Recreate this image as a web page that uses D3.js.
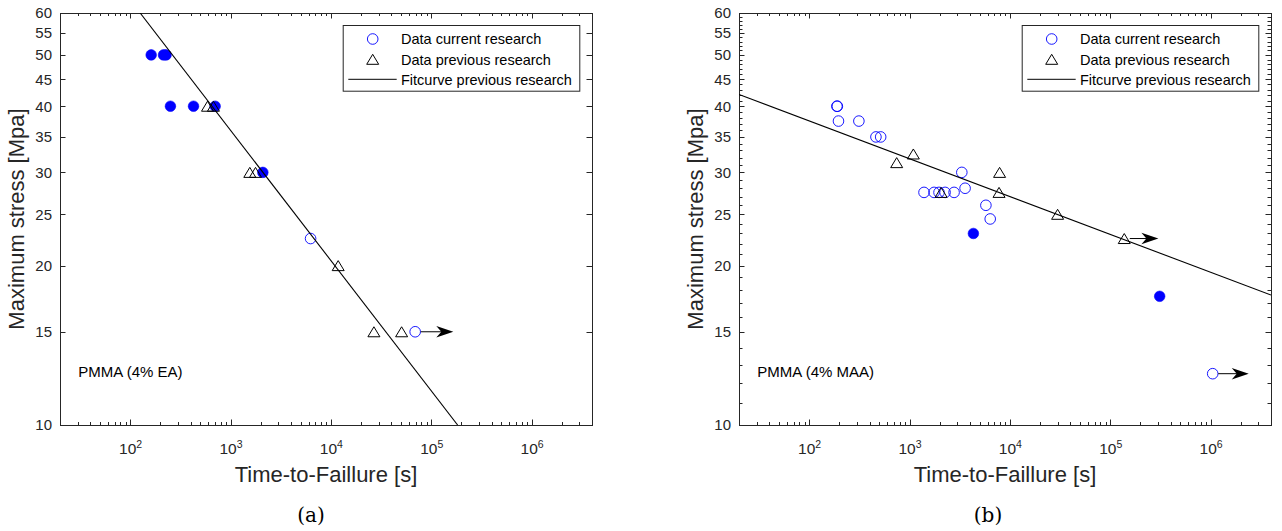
<!DOCTYPE html>
<html>
<head>
<meta charset="utf-8">
<script src="https://cdn.jsdelivr.net/npm/d3@7"></script>
<style>
  html, body { margin: 0; padding: 0; background: #fff; }
  svg { display: block; font-family: "Liberation Sans", Arial, Helvetica, sans-serif; }
</style>
</head>
<body>
<svg id="chart" width="1282" height="531"></svg>
<script>
// ---- Data: [time-to-failure (s), maximum stress (MPa)] ----
// Panel (a): PMMA (4% EA)
const aCurrentFilled = [[162, 50], [215, 50], [228, 50], [252, 40], [428, 40], [703, 40], [2100, 30]];
const aCurrentOpen   = [[6280, 22.5], [69200, 15]];
const aPrevious      = [[590, 40], [676, 40], [1557, 30], [1775, 30], [11830, 20], [26850, 15], [50700, 15]];
const aFit           = [[125.8, 60], [183300, 10]];
const aRunouts       = [[69200, 15, 166000]];   // [start time, stress, arrow tip time]

// Panel (b): PMMA (4% MAA)
const bCurrentOpen   = [[189, 40], [191, 40], [196, 37.5], [313, 37.5], [463, 35], [516, 35],
                        [1395, 27.5], [1757, 27.5], [1968, 27.5], [2262, 27.5], [2780, 27.5],
                        [3320, 30], [3580, 28], [5770, 26], [6370, 24.5], [1050000, 12.5]];
const bCurrentFilled = [[4330, 23], [311000, 17.5]];
const bPrevious      = [[745, 31.3], [1092, 32.5], [2064, 27.5], [7900, 30], [7800, 27.5], [29900, 25], [138000, 22.5]];
const bFit           = [[20, 42.1], [4000000, 17.6]];
const bRunouts       = [[138000, 22.5, 302000], [1050000, 12.5, 2400000]];

// Axes
const timeDomain   = [20, 4e6];
const stressDomain = [10, 60];
const timeMajor    = [1e2, 1e3, 1e4, 1e5, 1e6];
const stressMajor  = [10, 15, 20, 25, 30, 35, 40, 45, 50, 55, 60];
const legendLabels = ["Data current research", "Data previous research", "Fitcurve previous research"];
const xTitle = "Time-to-Faillure [s]";
const yTitle = "Maximum stress [Mpa]";

const svg = d3.select("#chart");
const AX = "#262626";
const BLUE = "#0000ff";
const TOP = 13, BOTTOM = 425;

const panels = [
  { left: 60,  right: 592,  filled: aCurrentFilled, open: aCurrentOpen, prev: aPrevious, fit: aFit,
    runouts: aRunouts, note: "PMMA (4% EA)", caption: "(a)", captionX: 311, minorY: false },
  { left: 739, right: 1271, filled: bCurrentFilled, open: bCurrentOpen, prev: bPrevious, fit: bFit,
    runouts: bRunouts, note: "PMMA (4% MAA)", caption: "(b)", captionX: 988, minorY: true }
];

// minor decade ticks for the time axis
const timeMinor = [];
for (let e = 1; e <= 6; e++) for (let m = 2; m <= 9; m++) {
  const v = m * Math.pow(10, e);
  if (v >= timeDomain[0] && v <= timeDomain[1]) timeMinor.push(v);
}

function triPath(w, h) {
  return `M0,${-h / 2}L${w / 2},${h / 2}L${-w / 2},${h / 2}Z`;
}

panels.forEach((p, i) => {
  const x = d3.scaleLog().domain(timeDomain).range([p.left, p.right]);
  const y = d3.scaleLog().domain(stressDomain).range([BOTTOM, TOP]);
  const g = svg.append("g");

  const clipId = "clip" + i;
  svg.append("clipPath").attr("id", clipId)
    .append("rect").attr("x", p.left).attr("y", TOP)
    .attr("width", p.right - p.left).attr("height", BOTTOM - TOP);

  // minor stress ticks (integers) where drawn
  const stressMinor = [];
  if (p.minorY) for (let v = 11; v < 60; v++) if (v % 5 !== 0) stressMinor.push(v);

  // ticks on all four sides, pointing inward
  const tickG = g.append("g").attr("stroke", AX).attr("stroke-width", 1);
  const addTicks = (vals, len) => {
    vals.forEach(v => {
      const xx = Math.round(x(v)) + 0.5;
      tickG.append("line").attr("x1", xx).attr("x2", xx).attr("y1", BOTTOM).attr("y2", BOTTOM - len);
      tickG.append("line").attr("x1", xx).attr("x2", xx).attr("y1", TOP).attr("y2", TOP + len);
    });
  };
  addTicks(timeMajor, 5.5);
  addTicks(timeMinor, 3);
  const addYTicks = (vals, len) => {
    vals.forEach(v => {
      const yy = Math.round(y(v)) + 0.5;
      tickG.append("line").attr("x1", p.left).attr("x2", p.left + len).attr("y1", yy).attr("y2", yy);
      tickG.append("line").attr("x1", p.right).attr("x2", p.right - len).attr("y1", yy).attr("y2", yy);
    });
  };
  addYTicks(stressMajor, 5.5);
  addYTicks(stressMinor, 3.5);

  // axes box
  g.append("rect")
    .attr("x", p.left + 0.5).attr("y", TOP + 0.5)
    .attr("width", p.right - p.left).attr("height", BOTTOM - TOP)
    .attr("fill", "none").attr("stroke", AX).attr("stroke-width", 1);

  // tick labels (time, as powers of ten)
  timeMajor.forEach(v => {
    const t = g.append("text")
      .attr("x", x(v) + 0.5).attr("y", BOTTOM + 29)
      .attr("text-anchor", "middle").attr("fill", AX).attr("font-size", 15.5);
    t.append("tspan").text("10");
    t.append("tspan").attr("dy", -6.5).attr("font-size", 10.5).text(Math.round(Math.log10(v)));
  });
  stressMajor.forEach(v => {
    g.append("text")
      .attr("x", p.left - 8).attr("y", y(v)).attr("dy", "0.36em")
      .attr("text-anchor", "end").attr("fill", AX).attr("font-size", 15)
      .text(v);
  });

  // axis titles
  g.append("text")
    .attr("x", (p.left + p.right) / 2).attr("y", BOTTOM + 57)
    .attr("text-anchor", "middle").attr("fill", AX).attr("font-size", 22)
    .text(xTitle);
  g.append("text")
    .attr("transform", `translate(${p.left - 36.5},${(TOP + BOTTOM) / 2}) rotate(-90)`)
    .attr("text-anchor", "middle").attr("fill", AX).attr("font-size", 22)
    .text(yTitle);

  // plot content
  const plot = g.append("g").attr("clip-path", `url(#${clipId})`);

  plot.selectAll(".filled").data(p.filled).join("circle")
    .attr("cx", d => x(d[0])).attr("cy", d => y(d[1])).attr("r", 5.3)
    .attr("fill", BLUE).attr("stroke", BLUE).attr("stroke-width", 0.6);

  plot.selectAll(".open").data(p.open).join("circle")
    .attr("cx", d => x(d[0])).attr("cy", d => y(d[1])).attr("r", 5.3)
    .attr("fill", "none").attr("stroke", BLUE).attr("stroke-width", 0.9);

  plot.selectAll(".prev").data(p.prev).join("path")
    .attr("transform", d => `translate(${x(d[0])},${y(d[1])})`)
    .attr("d", triPath(12, 10))
    .attr("fill", "none").attr("stroke", "#000").attr("stroke-width", 1);

  plot.append("path").datum(p.fit)
    .attr("d", d3.line().x(d => x(d[0])).y(d => y(d[1])))
    .attr("fill", "none").attr("stroke", "#000").attr("stroke-width", 1.1);

  // run-out arrows
  p.runouts.forEach(d => {
    const x0 = x(d[0]) + 5.5, x1 = x(d[2]), yy = y(d[1]);
    plot.append("line").attr("x1", x0).attr("x2", x1 - 8).attr("y1", yy).attr("y2", yy)
      .attr("stroke", "#000").attr("stroke-width", 1);
    const L = 17, hw = 5.7, notch = 5;
    plot.append("path")
      .attr("d", `M${x1},${yy}L${x1 - L},${yy - hw}L${x1 - L + notch},${yy}L${x1 - L},${yy + hw}Z`)
      .attr("fill", "#000");
  });

  // annotation
  g.append("text")
    .attr("x", p.left + 18.3).attr("y", 376.7)
    .attr("fill", "#000").attr("font-size", 15)
    .text(p.note);

  // legend
  const lx = p.right - 249.3, ly = TOP + 12;
  const lg = g.append("g");
  lg.append("rect").attr("x", lx + 0.5).attr("y", ly + 0.5).attr("width", 236.6).attr("height", 65.7)
    .attr("fill", "#fff").attr("stroke", AX).attr("stroke-width", 1);
  const rows = [TOP + 26, TOP + 46.3, TOP + 66.3];
  lg.append("circle").attr("cx", lx + 30).attr("cy", rows[0]).attr("r", 5.3)
    .attr("fill", "none").attr("stroke", BLUE).attr("stroke-width", 0.9);
  lg.append("path").attr("transform", `translate(${lx + 30},${rows[1]})`).attr("d", triPath(12, 10))
    .attr("fill", "none").attr("stroke", "#000").attr("stroke-width", 1);
  lg.append("line").attr("x1", lx + 5.6).attr("x2", lx + 54).attr("y1", rows[2]).attr("y2", rows[2])
    .attr("stroke", "#000").attr("stroke-width", 1);
  legendLabels.forEach((lab, k) => {
    lg.append("text").attr("x", lx + 58.3).attr("y", rows[k]).attr("dy", "0.36em")
      .attr("fill", "#000").attr("font-size", 14.5).text(lab);
  });

  // sub-figure caption
  svg.append("text")
    .attr("x", p.captionX).attr("y", 522)
    .attr("text-anchor", "middle").attr("fill", "#000")
    .attr("font-family", "'DejaVu Serif', 'Liberation Serif', serif").attr("font-size", 20)
    .text(p.caption);
});
</script>
</body>
</html>
